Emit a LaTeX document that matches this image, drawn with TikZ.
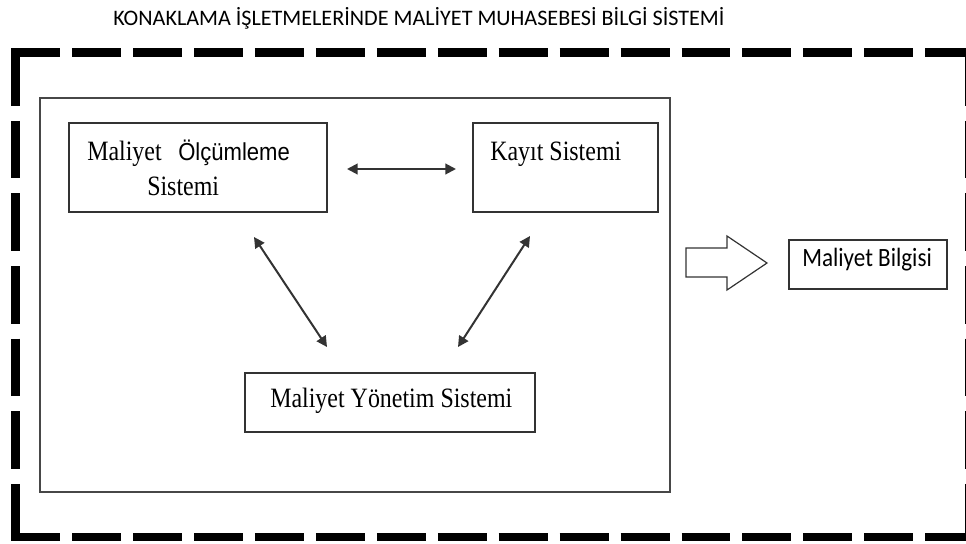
\documentclass[tikz,border=0pt]{standalone}
\usepackage{fontspec}
\usetikzlibrary{arrows.meta}
\setmainfont{Liberation Serif}
\newfontfamily\titlefont{Carlito}
\newfontfamily\boxserif[FakeStretch=0.855]{Liberation Serif}
\newfontfamily\boxsans[FakeStretch=0.9]{Liberation Sans}
\newfontfamily\infofont[FakeStretch=0.875]{Carlito}
\definecolor{edge}{HTML}{333333}
\begin{document}
\begin{tikzpicture}[x=0.75pt,y=-0.75pt,
  box/.style={draw=edge,line width=1pt,rectangle,inner sep=0pt},
  label/.style={inner sep=0pt,anchor=base west,text=black},
  serif/.style={font=\boxserif\fontsize{21}{24}\selectfont},
  biarrow/.style={draw=edge,line width=1.5pt,{Triangle[length=8pt,width=8pt]}-{Triangle[length=8pt,width=8pt]}},
  frame/.style={line width=6.4pt,line cap=butt,draw=black}]
\useasboundingbox (0,0) rectangle (966,543);

% heading
\node[label,font=\titlefont\fontsize{16.6}{19}\selectfont] (title) at (113,25)
  {KONAKLAMA İŞLETMELERİNDE MALİYET MUHASEBESİ BİLGİ SİSTEMİ};

% heavy dashed outer frame, each side drawn from its corner
\begin{scope}
\clip (0,0) rectangle (966,543);
\draw[frame,dash pattern=on 36.7pt off 9pt] (11.25,52.5) -- (973.75,52.5);
\draw[frame,dash pattern=on 36.7pt off 9pt] (11.25,537) -- (973.75,537);
\draw[frame,dash pattern=on 43.2pt off 11.25pt] (15.5,48.25) -- (15.5,541.25);
\draw[line width=1.2pt,draw=black,dash pattern=on 43.2pt off 11.25pt] (965.3,48.25) -- (965.3,541.25);
\end{scope}

% inner system frame
\node[box,draw=edge!90,line width=0.9pt,minimum width=630*0.75pt,minimum height=394*0.75pt] (inner) at (355,295) {};

% subsystem boxes
\node[box,minimum width=258*0.75pt,minimum height=89*0.75pt] (olcum) at (198,167.5) {};
\node[box,minimum width=185*0.75pt,minimum height=89*0.75pt] (kayit) at (565.5,167.5) {};
\node[box,minimum width=290*0.75pt,minimum height=59*0.75pt] (yonetim) at (390,402.5) {};
\node[box,minimum width=158*0.75pt,minimum height=49*0.75pt] (bilgi) at (868,264.5) {};

% box texts
\node[label,serif] (t1a) at (87,160) {Maliyet};
\node[label,font=\boxsans\fontsize{18.4}{21}\selectfont] (t1b) at (178,160) {Ölçümleme};
\node[label,serif] (t1c) at (147,195) {Sistemi};
\node[label,serif] (t2) at (490,160) {Kayıt Sistemi};
\node[label,serif] (t3) at (270,407) {Maliyet Yönetim Sistemi};
\node[label,font=\infofont\fontsize{19.8}{23}\selectfont] (t4) at (802,266) {Maliyet Bilgisi};

% end points of the two-way connectors
\coordinate (h1) at (347,169);
\coordinate (h2) at (456,169);
\coordinate (l1) at (254,237);
\coordinate (l2) at (327,347);
\coordinate (r1) at (530,236);
\coordinate (r2) at (458,347);

\draw[biarrow] (h1) -- (h2);
\draw[biarrow] (l1) -- (l2);
\draw[biarrow] (r1) -- (r2);

% outlined block arrow towards the output
\draw[draw=edge,line width=0.9pt,line join=miter]
  (686,248) -- (727,248) -- (727,236) -- (767,263) -- (727,290) -- (727,277) -- (686,277) -- cycle;
\end{tikzpicture}
\end{document}
